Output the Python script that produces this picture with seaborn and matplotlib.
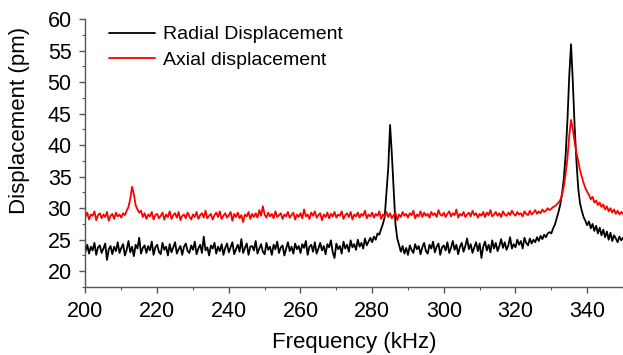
import numpy as np
import matplotlib
matplotlib.use("Agg")
import matplotlib.pyplot as plt
from matplotlib.ticker import MultipleLocator
import pandas as pd
import seaborn as sns

# frequency axis, 0.5 kHz steps from 200 to 350 kHz
freq = np.arange(200.0, 350.01, 0.5)

# radial displacement (pm) (10 kHz per row)
radial = [
    23.1, 24.2, 22.8, 23.9, 23.3, 24.5, 22.6, 23.8, 24.1, 22.9, 23.6, 24.4, 21.8, 23.5, 24.0, 22.7, 23.9, 23.2, 24.6, 22.9,
    23.7, 24.3, 22.5, 23.4, 24.8, 23.0, 23.9, 22.4, 24.2, 23.6, 25.3, 22.8, 23.7, 24.1, 22.9, 24.0, 23.3, 24.7, 22.6, 23.8,
    24.2, 23.1, 22.7, 24.5, 23.4, 23.9, 22.5, 24.3, 23.0, 23.8, 24.6, 22.8, 23.5, 24.0, 22.6, 23.9, 24.4, 23.2, 22.9, 24.1,
    23.4, 24.7, 22.7, 23.6, 24.2, 22.9, 25.5, 23.3, 23.8, 22.5, 24.1, 23.6, 24.5, 22.8, 23.9, 23.2, 24.3, 22.6, 23.7, 24.4,
    23.0, 23.8, 24.6, 22.7, 23.5, 24.2, 23.1, 25.1, 22.9, 23.7, 24.4, 22.6, 23.9, 24.0, 23.3, 24.8, 22.8, 23.6, 24.3, 23.1,
    22.7, 24.5, 23.4, 23.9, 22.6, 24.2, 23.5, 24.7, 22.9, 23.8, 24.1, 22.5, 23.6, 24.6, 23.2, 23.9, 22.8, 24.4, 23.5, 24.0,
    22.9, 24.3, 23.7, 24.8, 22.6, 23.9, 24.2, 23.1, 24.6, 22.8, 23.6, 24.5, 23.3, 24.0, 22.7, 24.3, 23.8, 24.9, 23.0, 22.1,
    24.4, 23.5, 24.0, 22.8, 24.7, 23.6, 24.2, 23.1, 24.9, 23.8, 24.3, 23.4, 25.0, 23.9, 24.5, 23.6, 25.2, 24.1, 24.7, 25.3,
    24.6, 25.5, 25.0, 26.0, 25.8, 26.7, 27.5, 28.6, 32.5, 36.5, 43.2, 38.5, 33.0, 27.5, 25.2, 24.2, 23.1, 24.0, 22.8, 23.7,
    22.6, 24.1, 23.4, 22.9, 24.3, 23.5, 24.0, 22.7, 23.8, 24.5, 23.2, 22.8, 24.2, 23.6, 24.7, 23.0, 23.9, 24.4, 22.6, 23.8,
    24.1, 23.3, 24.6, 22.9, 23.7, 24.8, 23.4, 24.2, 22.7, 23.9, 24.5, 23.1, 24.0, 25.2, 23.5, 24.3, 22.9, 23.8, 24.6, 23.2,
    24.4, 22.1, 23.9, 24.7, 23.3, 24.2, 23.0, 24.9, 23.6, 24.5, 23.2, 24.0, 25.1, 23.7, 24.6, 23.4, 24.1, 25.4, 23.6, 24.3,
    23.8, 25.0, 24.2, 24.8, 23.6, 25.3, 24.5, 24.1, 25.2, 24.4, 25.0, 24.6, 25.4, 24.8, 25.6, 25.1, 25.8, 25.4, 26.0, 26.2,
    26.0, 26.8, 27.4, 28.4, 29.4, 30.6, 32.3, 34.8, 38.5, 44.0, 51.0, 56.0, 50.0, 43.0, 37.5, 33.2, 30.8, 29.6, 28.6, 28.0,
    27.3, 27.9, 26.8, 27.5, 26.4, 27.2, 26.0, 26.9, 25.7, 26.6, 25.4, 26.3, 25.0, 26.1, 24.8, 25.7, 25.2, 24.6, 25.5, 24.9,
    25.3,
]

# axial displacement (pm)
axial = [
    28.6, 29.3, 28.2, 29.0, 28.8, 29.5, 28.1, 28.9, 29.2, 28.4, 29.0, 28.6, 29.4, 28.0, 28.8, 29.1, 28.3, 29.3, 28.7, 29.0,
    28.5, 29.2, 28.9, 29.6, 30.2, 31.5, 33.4, 32.2, 30.5, 29.8, 29.3, 29.6, 28.6, 29.2, 28.3, 29.0, 28.7, 29.4, 28.2, 28.9,
    29.1, 28.4, 28.8, 29.3, 28.2, 29.0, 28.6, 29.5, 28.3, 28.9, 29.2, 28.5, 29.4, 28.1, 28.8, 29.0, 28.4, 29.3, 28.7, 28.2,
    29.0, 28.6, 29.4, 28.3, 28.9, 29.2, 28.5, 29.6, 28.4, 28.8, 29.1, 28.2, 28.9, 29.3, 28.6, 29.5, 28.3, 28.8, 29.2, 28.5,
    28.9, 29.4, 28.0, 29.1, 28.6, 29.3, 28.4, 28.9, 27.8, 29.0, 28.7, 29.4, 28.3, 29.1, 28.6, 29.2, 28.5, 29.7, 28.8, 30.3,
    29.0, 28.5, 29.3, 28.7, 29.1, 28.4, 29.5, 28.6, 28.9, 29.2, 28.3, 29.0, 28.7, 29.4, 28.5, 28.9, 29.3, 28.2, 29.0, 28.6,
    29.2, 28.4, 29.8, 28.7, 29.0, 28.3, 29.3, 28.8, 29.5, 28.5, 28.9, 29.2, 28.1, 29.0, 28.6, 29.3, 28.4, 29.1, 28.7, 29.4,
    28.5, 29.0, 28.8, 29.5, 28.3, 28.9, 29.2, 28.6, 29.4, 28.2, 29.0, 28.7, 29.3, 28.5, 29.1, 28.8, 29.6, 28.4, 29.0, 28.7,
    29.3, 28.5, 29.1, 28.8, 29.5, 28.3, 29.0, 28.7, 29.4, 28.6, 29.2, 28.4, 28.9, 29.3, 28.1, 29.0, 28.6, 29.4, 28.8, 29.1,
    28.5, 29.2, 28.9, 29.6, 28.4, 29.0, 28.7, 29.5, 28.6, 29.3, 28.8, 29.1, 28.5, 29.4, 28.9, 29.2, 28.6, 29.7, 29.0, 28.8,
    29.3, 28.6, 29.1, 29.5, 28.7, 29.2, 28.9, 29.8, 28.5, 29.1, 28.8, 29.4, 28.6, 29.0, 29.3, 28.7, 29.6, 28.9, 29.2, 28.5,
    29.1, 28.8, 29.4, 28.6, 29.3, 28.9, 29.7, 28.7, 29.0, 29.4, 28.8, 29.2, 28.6, 29.5, 29.0, 28.8, 29.3, 28.9, 29.6, 29.1,
    28.8, 29.4, 29.0, 29.2, 28.7, 29.5, 29.1, 28.9, 29.6, 29.0, 29.3, 29.7, 29.1, 29.5, 29.2, 29.8, 29.4, 29.6, 30.0, 29.7,
    29.9, 30.2, 30.3, 30.6, 30.9, 31.3, 32.2, 33.5, 35.5, 38.0, 41.5, 44.0, 42.5, 40.5, 38.8, 37.5, 36.0, 35.0, 34.0, 33.2,
    32.6, 32.1, 31.4, 31.8, 30.9, 31.2, 30.5, 30.9, 30.2, 30.6, 29.8, 30.3, 29.5, 30.0, 29.3, 29.8, 29.1, 29.6, 29.0, 29.4,
    29.1,
]

labels = ["Radial Displacement", "Axial displacement"]
colors = {"Radial Displacement": "black", "Axial displacement": "#ff0000"}

df = pd.DataFrame({"freq": freq, labels[0]: radial, labels[1]: axial}).melt(
    id_vars="freq", var_name="series", value_name="disp")

sns.set_style("ticks")
plt.rcParams["font.family"] = ["Liberation Sans", "DejaVu Sans"]
plt.rcParams["text.color"] = "black"
plt.rcParams["axes.labelcolor"] = "black"

fig = plt.figure(figsize=(6.23, 3.55), dpi=100)
ax = fig.add_axes([0.1372, 0.1915, 0.8628, 0.7549])

sns.lineplot(data=df, x="freq", y="disp", hue="series", palette=colors,
             estimator=None, sort=False, linewidth=1.3, ax=ax)

ax.set_xlim(200, 350)
ax.set_ylim(17.5, 60)
ax.xaxis.set_major_locator(MultipleLocator(20))
ax.xaxis.set_minor_locator(MultipleLocator(10))
ax.yaxis.set_minor_locator(MultipleLocator(2.5))
ax.set_yticks(np.arange(20, 61, 5))

sns.despine(ax=ax)
for s in ["left", "bottom"]:
    ax.spines[s].set_color("#555555")
    ax.spines[s].set_linewidth(1.0)
ax.tick_params(which="major", length=4, width=1, color="#555555",
               labelsize=15.5, labelcolor="black", pad=6)
ax.tick_params(which="minor", length=2.5, width=0.8, color="#555555")

ax.set_xlabel("Frequency (kHz)", fontsize=16, labelpad=7)
ax.set_ylabel("Displacement (pm)", fontsize=16)
ax.yaxis.set_label_coords(-0.104, 0.62)

ax.legend(loc="upper left", bbox_to_anchor=(0.044, 0.975), frameon=False,
          fontsize=14, handlelength=2.35, handletextpad=0.4,
          labelspacing=0.4, borderpad=0, borderaxespad=0)

fig.savefig("out.png", dpi=100)
